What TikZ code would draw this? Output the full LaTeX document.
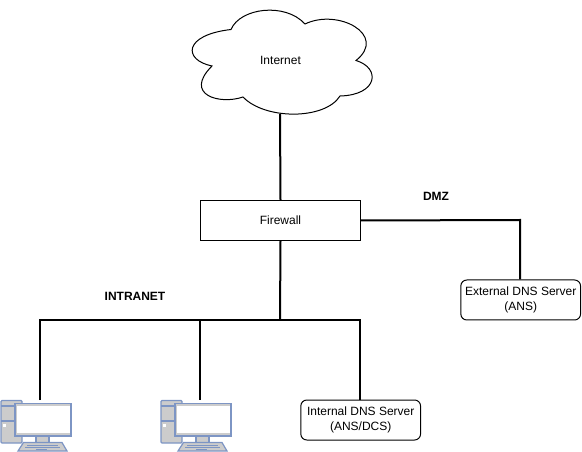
\documentclass[tikz,border=0pt]{standalone}
\usepackage{fontspec}
\setmainfont{Liberation Sans}
\newcommand{\pcdraw}[2]{%
\begin{scope}[shift={(#1,#2)}]
 % tower
 \draw[pcline,fill=pcgray,rounded corners=0.8] (1,400.5) rectangle (22,443);
 \draw[pcline] (1,406) -- (22,406);
 \draw[pcline] (1,421) -- (15,421);
 \fill[white] (3,424) rectangle (5.5,426.5);
 % stand
 \draw[pcline,fill=pcgray] (36,436) rectangle (49,442.5);
 % keyboard
 \draw[pcline,fill=pcgray] (23.5,442.5) -- (62,442.5) -- (67,451) -- (18,451) -- cycle;
 \draw[pcblue,line width=0.6pt] (27,445) -- (58,445) (25,447.5) -- (60,447.5) (36,449.6) -- (47,449.6);
 % monitor
 \draw[pcline,fill=pcgray] (15,403.5) rectangle (71,436);
 \fill[white] (16.5,406) rectangle (69.5,433);
\end{scope}}
\definecolor{pcblue}{HTML}{7D95C4}
\definecolor{pcgray}{HTML}{CCCCCC}
\tikzset{
 x=0.75pt,y=-0.75pt,
 every node/.style={font=\fontsize{9}{11}\selectfont,align=center,inner sep=0pt},
 pcline/.style={draw=pcblue,line width=0.9pt},
 link/.style={draw=black,line width=1.5pt},
 thinbox/.style={draw=black,line width=0.75pt,minimum width=120pt,minimum height=30pt},
 dnsbox/.style={draw=black,line width=0.75pt,rounded corners=4.5pt,minimum width=89.8pt,minimum height=30pt},
 zone/.style={font=\fontsize{9}{11}\selectfont\bfseries},
}
\begin{document}
\begin{tikzpicture}
\useasboundingbox (0,0) rectangle (582,452);
% cloud
\draw[black,line width=0.75pt,fill=white] (231,29.5)
 .. controls (240,8) and (285,2) .. (305,24)
 .. controls (338,8) and (388,35) .. (356,60.5)
 .. controls (381,68) and (378,95) .. (340,96)
 .. controls (325,120) and (265,120) .. (243,97)
 .. controls (220,105) and (183,95) .. (212,66)
 .. controls (183,60) and (183,35) .. (231,29.5) -- cycle;
\node (internet) at (280.5,60) {Internet};
\coordinate (cloudb) at (280,114);
% boxes
\node[thinbox] (fw) at (280.5,220.5) {Firewall};
\node[dnsbox] (ext) at (520.7,300) {External DNS Server\\(ANS)};
\node[dnsbox] (int) at (360.7,420) {Internal DNS Server\\(ANS/DCS)};
% computers
\pcdraw{0}{0}
\pcdraw{160}{0}
\coordinate (pca) at (40,400);
\coordinate (pcb) at (200,400);
% bus
\coordinate (busa) at (40,320);
\coordinate (busb) at (200,320);
\coordinate (busm) at (280,320);
\coordinate (busc) at (360,320);
\coordinate (dmzc) at (520,220);
% connectors
\draw[link] (cloudb) -- (fw.north);
\draw[link] (fw.south) -- (busm);
\draw[link] (pca) -- (busa) -- (busc) -- (int.north -| busc);
\draw[link] (busb) -- (pcb);
\draw[link] (fw.east) -- (dmzc) -- (ext.north -| dmzc);
% labels
\node[zone] (intranet) at (135,296) {INTRANET};
\node[zone] (dmz) at (436,196) {DMZ};
\end{tikzpicture}
\end{document}
